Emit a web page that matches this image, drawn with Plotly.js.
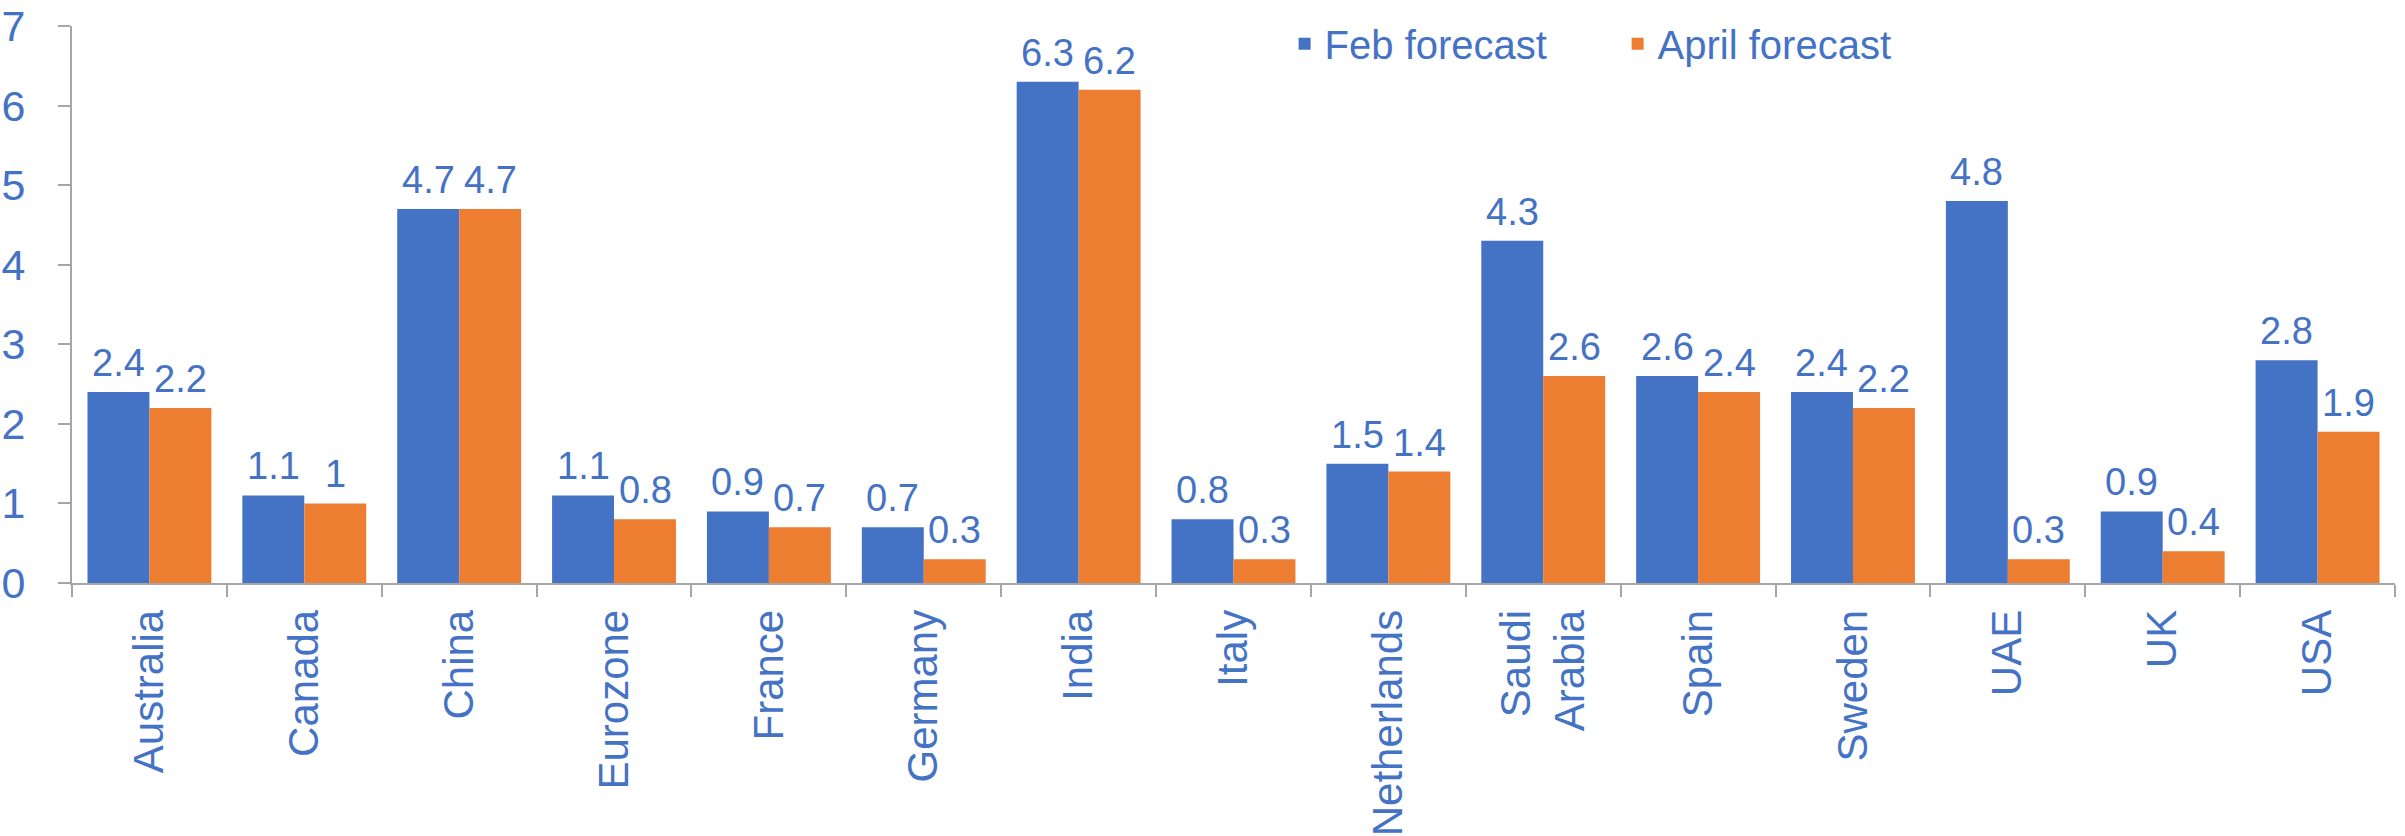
<!DOCTYPE html>
<html>
<head>
<meta charset="utf-8">
<script src="https://cdn.plot.ly/plotly-3.0.1.min.js"></script>
<style>
html,body{margin:0;padding:0;background:#fff;}
#chart{width:2405px;height:836px;}
</style>
</head>
<body>
<div id="chart"></div>
<script>
const categories = ["Australia","Canada","China","Eurozone","France","Germany","India","Italy","Netherlands","Saudi<br>Arabia","Spain","Sweden","UAE","UK","USA"];
const febForecast = [2.4,1.1,4.7,1.1,0.9,0.7,6.3,0.8,1.5,4.3,2.6,2.4,4.8,0.9,2.8];
const aprilForecast = [2.2,1.0,4.7,0.8,0.7,0.3,6.2,0.3,1.4,2.6,2.4,2.2,0.3,0.4,1.9];
const yTicks = [0,1,2,3,4,5,6,7];

const BLUE = "#4472C4", ORANGE = "#ED7D31", TEXT = "#4472C4", AXIS = "#A6A6A6";
const FONT = "Liberation Sans, Arial, sans-serif";

const traces = [
  {type:"bar", name:"Feb forecast", x:categories, y:febForecast, marker:{color:BLUE}},
  {type:"bar", name:"April forecast", x:categories, y:aprilForecast, marker:{color:ORANGE}}
];

const annotations = [];
function addLabels(vals, shift){
  vals.forEach((v,i)=>{
    annotations.push({x:categories[i], y:v, xref:"x", yref:"y", text:String(v), showarrow:false,
      xanchor:"center", yanchor:"bottom", xshift:shift, yshift:6,
      font:{family:FONT, size:38, color:TEXT}});
  });
}
addLabels(febForecast, -31);
addLabels(aprilForecast, 31);

const layout = {
  width:2405, height:836,
  margin:{l:72, r:10, t:26, b:253},
  paper_bgcolor:"#fff", plot_bgcolor:"#fff",
  barmode:"group", bargap:0.2, bargroupgap:0,
  font:{family:FONT, color:TEXT},
  showlegend:true,
  legend:{orientation:"h", x:0.522, xanchor:"left", y:0.968, yanchor:"middle",
    font:{family:FONT, size:40, color:TEXT}, bgcolor:"rgba(0,0,0,0)", entrywidth:288, entrywidthmode:"pixels"},
  xaxis:{type:"category", showline:true, linecolor:AXIS, linewidth:2, ticks:"outside", tickson:"boundaries",
    ticklen:12, tickcolor:AXIS, tickwidth:2, tickangle:-90, ticklabelstandoff:8,
    tickfont:{family:FONT, size:42, color:TEXT}, showgrid:false, zeroline:false},
  yaxis:{range:[0,7], tickvals:yTicks, showline:true, linecolor:AXIS, linewidth:2, ticks:"outside",
    ticklen:12, tickcolor:AXIS, tickwidth:2, ticklabelstandoff:24,
    tickfont:{family:FONT, size:43, color:TEXT}, showgrid:false, zeroline:false},
  annotations:annotations
};

Plotly.newPlot("chart", traces, layout, {staticPlot:true, displayModeBar:false});
</script>
</body>
</html>
